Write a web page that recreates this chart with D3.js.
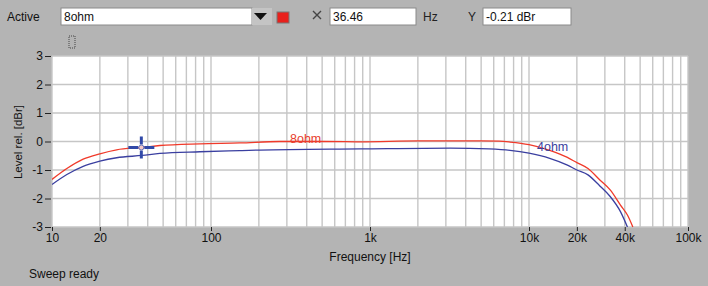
<!DOCTYPE html>
<html><head><meta charset="utf-8">
<script src="https://cdn.jsdelivr.net/npm/d3@7"></script>
<style>
html,body{margin:0;padding:0;background:#b4b4b4;}
svg{display:block;font-family:"Liberation Sans",Arial,sans-serif;}
</style></head>
<body><svg id="c" width="708" height="286"></svg>
<script>
// ---- data ----
const freq8 = [10,12.4,15.7,20,25.5,36.9,47.7,85,152,270,500,870,2000,5000,6500,7600,10000,13500,17300,20000,23500,27900,32400,37600,41600,45000];
const level8 = [-1.33,-0.95,-0.62,-0.43,-0.29,-0.21,-0.14,-0.08,-0.05,0,0,-0.01,0.02,0.02,0.01,-0.02,-0.11,-0.31,-0.55,-0.74,-0.95,-1.35,-1.7,-2.23,-2.58,-3.0];
const freq4 = [10,12.4,15.7,20,25.5,36.9,47.7,85,152,203,870,3200,5600,7600,10000,13500,17300,20000,23500,27900,32400,37600,41600];
const level4 = [-1.51,-1.16,-0.87,-0.69,-0.57,-0.49,-0.42,-0.36,-0.32,-0.3,-0.26,-0.23,-0.26,-0.31,-0.41,-0.59,-0.82,-1.0,-1.17,-1.56,-1.93,-2.46,-3.0];
const xTickValues = [10,20,100,1000,10000,20000,40000,100000];
const xTickLabels = ["10","20","100","1k","10k","20k","40k","100k"];
const yTickValues = [-3,-2,-1,0,1,2,3];
const cursorX = 36.46, cursorY = -0.21;

const svg = d3.select("#c");
const L=52, R=688, T=56, B=227;
const x = d3.scaleLog().domain([10,100000]).range([L,R]);
const y = d3.scaleLinear().domain([-3,3]).range([B,T]);

// top controls
const bar = svg.append("g");
bar.append("text").attr("x",7).attr("y",21).attr("font-size",12).attr("fill","#111").text("Active");
function box(x0,w,txt){
  bar.append("rect").attr("x",x0).attr("y",8).attr("width",w).attr("height",17).attr("fill","#fff").attr("stroke","#8a8a8a");
  bar.append("text").attr("x",x0+3).attr("y",21).attr("font-size",12).attr("fill","#111").text(txt);
}
box(61,191,"8ohm");
bar.append("rect").attr("x",252).attr("y",8).attr("width",20).attr("height",17).attr("fill","#c4c4c4");
bar.append("path").attr("d","M254,13 L267,13 L260.5,20 Z").attr("fill","#111");
bar.append("rect").attr("x",277).attr("y",12).attr("width",12).attr("height",11).attr("fill","#e8201c").attr("stroke","#777");
bar.append("path").attr("d","M313,11 L321,19 M321,11 L313,19").attr("stroke","#444").attr("stroke-width",1.4);
box(330,86,"36.46");
bar.append("text").attr("x",423).attr("y",21).attr("font-size",12).attr("fill","#222").text("Hz");
bar.append("text").attr("x",468).attr("y",21).attr("font-size",12).attr("fill","#222").text("Y");
box(483,88,"-0.21 dBr");
bar.append("rect").attr("x",69).attr("y",36).attr("width",6).attr("height",12).attr("fill","none").attr("stroke","#444").attr("stroke-dasharray","1,1");

// plot area
svg.append("rect").attr("x",L).attr("y",T).attr("width",R-L).attr("height",B-T).attr("fill","#fff");
const grid = svg.append("g").attr("stroke","#c6c6c6").attr("stroke-width",1.4);
const minor=[];
for(let d=10; d<=100000; d*=10){ for(let k=1;k<10;k++){ const f=d*k; if(f<=100000) minor.push(f);} }
grid.selectAll("line.v").data(minor).join("line").attr("class","v").attr("x1",d=>x(d)).attr("x2",d=>x(d)).attr("y1",T).attr("y2",B);
grid.selectAll("line.h").data(yTickValues).join("line").attr("class","h").attr("x1",L).attr("x2",R).attr("y1",d=>y(d)).attr("y2",d=>y(d));

// axes
const xAxis = d3.axisBottom(x).tickValues(xTickValues).tickFormat((d,i)=>xTickLabels[i]).tickSize(4).tickPadding(2);
const gx = svg.append("g").attr("transform",`translate(0,${B})`).call(xAxis);
gx.select(".domain").remove();
gx.selectAll("text").attr("font-size",12).attr("fill","#111").attr("font-family","Liberation Sans, Arial, sans-serif");
gx.selectAll("line").attr("stroke","#222");
const yAxis = d3.axisLeft(y).tickValues(yTickValues).tickFormat(d3.format("d")).tickSize(6).tickPadding(2);
const gy = svg.append("g").attr("transform",`translate(${L-1},0)`).call(yAxis);
gy.select(".domain").remove();
gy.selectAll("text").attr("font-size",12).attr("fill","#111").attr("font-family","Liberation Sans, Arial, sans-serif").text(d=>d<0?"-"+Math.abs(d):d);
gy.selectAll("line").attr("stroke","#222");

svg.append("text").attr("transform","translate(22,142) rotate(-90)").attr("text-anchor","middle").attr("font-size",11.5).attr("fill","#111").text("Level rel. [dBr]");
svg.append("text").attr("x",370).attr("y",261).attr("text-anchor","middle").attr("font-size",12).attr("fill","#111").text("Frequency [Hz]");
svg.append("text").attr("x",29).attr("y",278).attr("font-size",12).attr("fill","#111").text("Sweep ready");

// curves
svg.append("clipPath").attr("id","clip").append("rect").attr("x",L).attr("y",T).attr("width",R-L).attr("height",B-T+1);
const line = d3.line().x(d=>x(d[0])).y(d=>y(d[1])).curve(d3.curveMonotoneX);
const g = svg.append("g").attr("clip-path","url(#clip)");
g.append("path").datum(d3.zip(freq4,level4)).attr("d",line).attr("fill","none").attr("stroke","#3a3fa0").attr("stroke-width",1.3);
g.append("path").datum(d3.zip(freq8,level8)).attr("d",line).attr("fill","none").attr("stroke","#f03a2a").attr("stroke-width",1.3);

svg.append("text").attr("x",290).attr("y",143).attr("font-size",12.5).attr("fill","#e8402e").text("8ohm");
svg.append("text").attr("x",537).attr("y",151).attr("font-size",12.5).attr("fill","#3a3fa0").text("4ohm");

// cursor
const cx=x(cursorX), cy=y(cursorY);
const cur = svg.append("g").attr("stroke","#3049a8").attr("stroke-width",3);
cur.append("line").attr("x1",cx-13).attr("x2",cx-3).attr("y1",cy).attr("y2",cy);
cur.append("line").attr("x1",cx+3).attr("x2",cx+13).attr("y1",cy).attr("y2",cy);
cur.append("line").attr("x1",cx).attr("x2",cx).attr("y1",cy-11).attr("y2",cy-3);
cur.append("line").attr("x1",cx).attr("x2",cx).attr("y1",cy+3).attr("y2",cy+11);
svg.append("circle").attr("cx",cx).attr("cy",cy).attr("r",2.5).attr("fill","#f4c8c8").attr("stroke","#6070b8").attr("stroke-width",1);
</script></body></html>
